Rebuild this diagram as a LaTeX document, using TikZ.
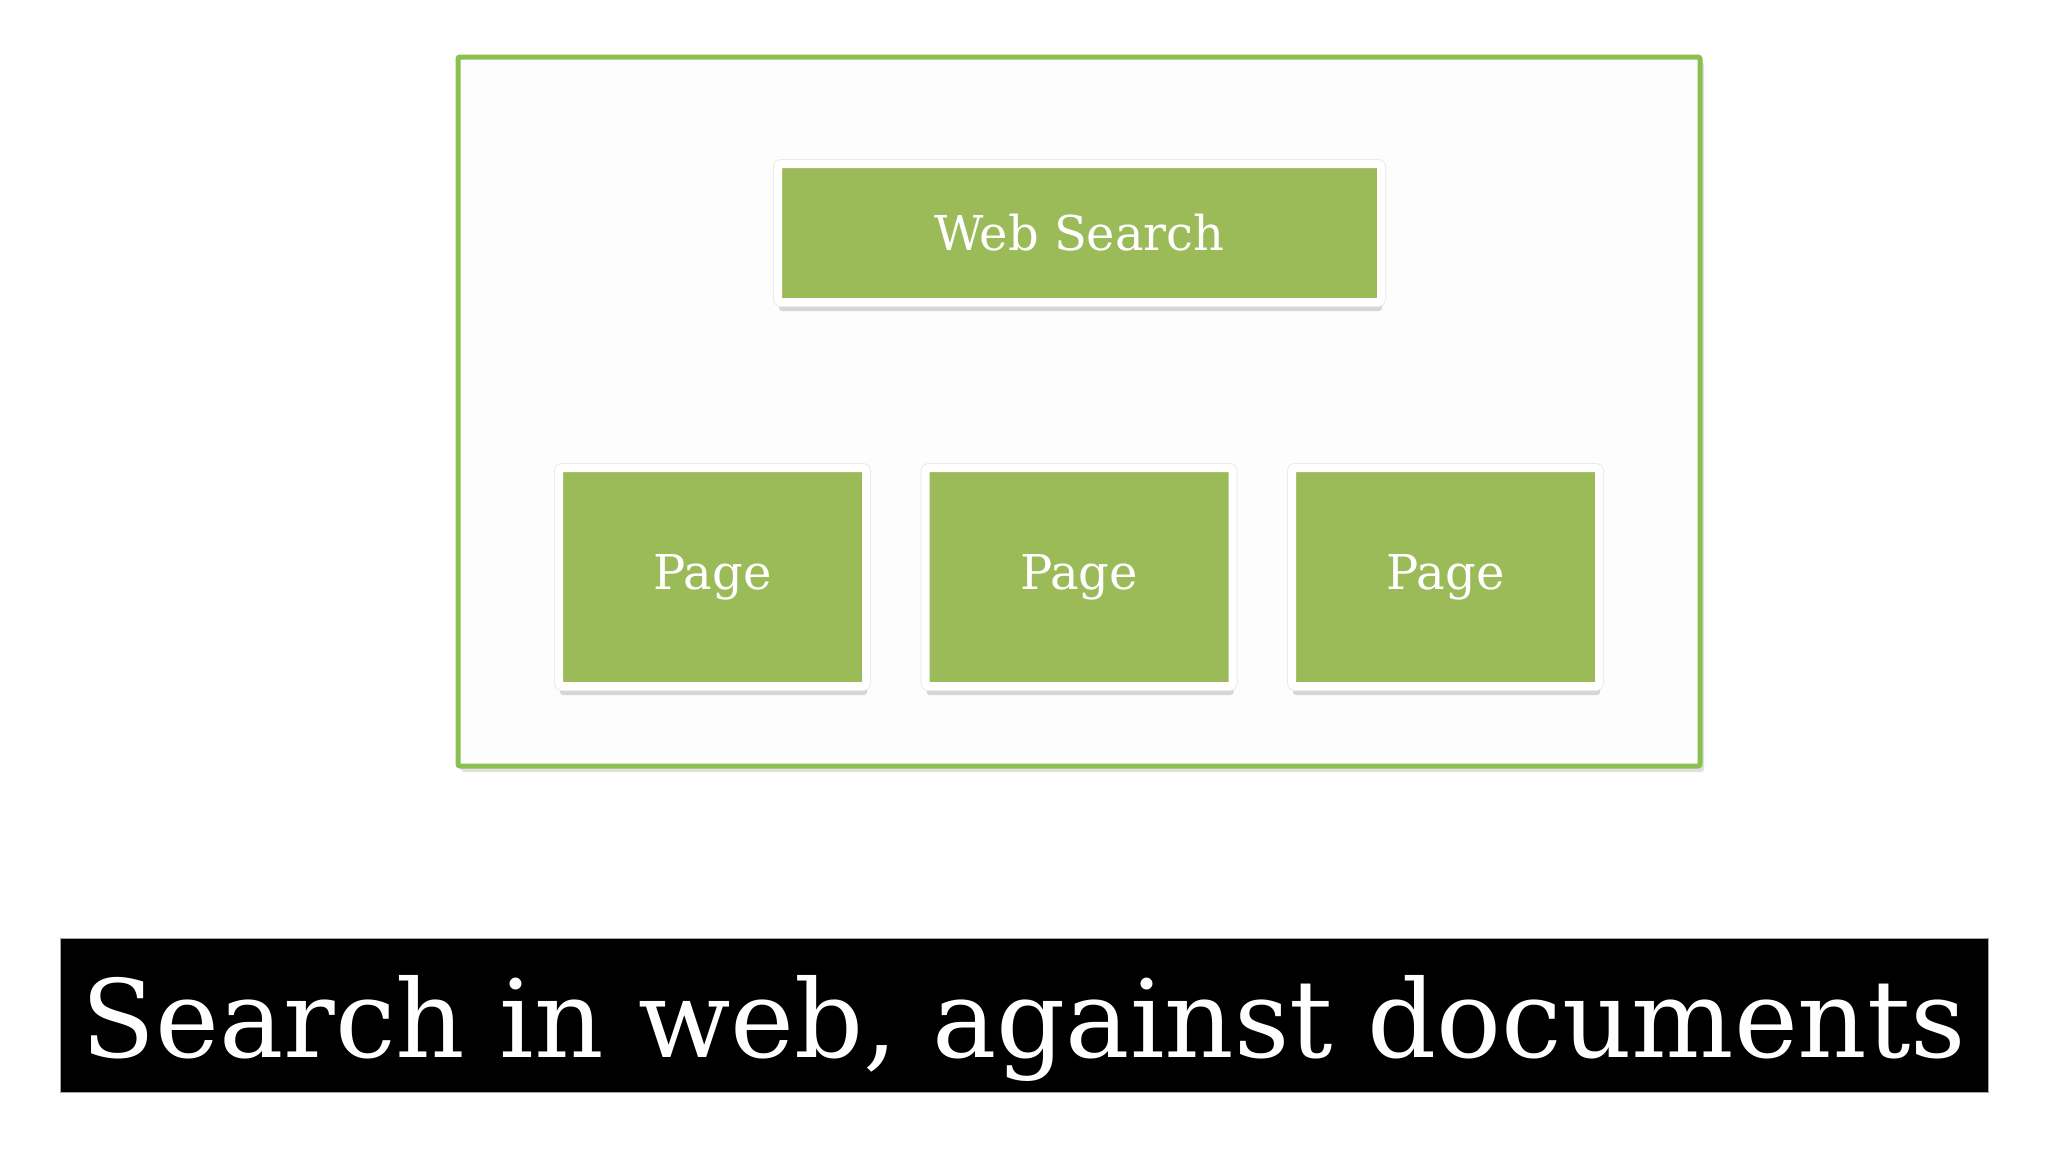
\documentclass[tikz,border=0pt]{standalone}
\usepackage{fontspec}
\setmainfont{DejaVu Serif}
\usetikzlibrary{shadows}
\definecolor{boxgreen}{RGB}{155,187,89}
\definecolor{framegreen}{RGB}{138,192,80}
\definecolor{paper}{RGB}{254,253,254}
\tikzset{
  greenbox/.style={draw=white, line width=8pt, fill=boxgreen, rounded corners=3pt,
    text=white, font=\fontsize{48}{56}\selectfont, inner sep=0pt,
    drop shadow={shadow xshift=1pt, shadow yshift=-9pt, opacity=0.22, fill=black!70},
    preaction={draw=black!8, line width=10pt}},
  frame/.style={draw=framegreen, line width=5pt, fill=paper, rounded corners=2pt},
  banner/.style={draw=gray!70, line width=1pt, fill=black},
  bannertext/.style={text=white, font=\fontsize{108}{120}\selectfont, inner sep=0pt, anchor=base}
}
\begin{document}
\begin{tikzpicture}[x=1pt,y=-1pt]
\useasboundingbox[fill=white] (0,0) rectangle (2048,1152);
\fill[black,opacity=0.12, rounded corners=3pt] (461,62) rectangle (1704,772);
\draw[frame] (458,57) rectangle (1700,766);
\node[greenbox, minimum width=603pt, minimum height=138pt] (web) at (1079.5,233) {Web Search};
\node[greenbox, minimum width=307pt, minimum height=218pt] (p1) at (712.5,577) {Page};
\node[greenbox, minimum width=307pt, minimum height=218pt] (p2) at (1079,577) {Page};
\node[greenbox, minimum width=307pt, minimum height=218pt] (p3) at (1445.5,577) {Page};
\draw[banner] (60,938) rectangle (1988,1092);
\node[bannertext] (cap) at (1024,1057) {Search in web, against documents};
\end{tikzpicture}
\end{document}
